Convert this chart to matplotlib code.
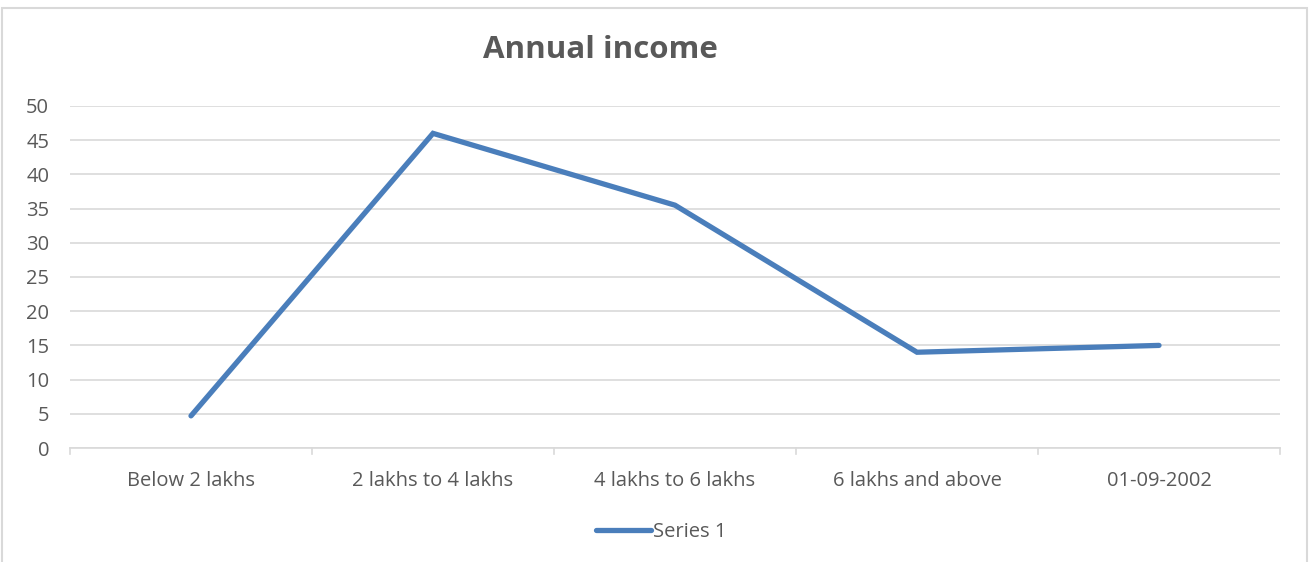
import matplotlib
matplotlib.use('Agg')
import matplotlib.pyplot as plt
from matplotlib.patches import Rectangle
from matplotlib.lines import Line2D

# Income brackets and share of respondents
categories = ['Below 2 lakhs', '2 lakhs to 4 lakhs', '4 lakhs to 6 lakhs',
              '6 lakhs and above', '01-09-2002']
series_1 = [4.7, 46, 35.5, 14, 15]
y_ticks = [0, 5, 10, 15, 20, 25, 30, 35, 40, 45, 50]

LINE_COLOR = '#4a7ebb'
GRID_COLOR = '#d9d9d9'
TEXT_COLOR = '#595959'
FS = 14.5

plt.rcParams['font.family'] = ['Open Sans', 'DejaVu Sans']

W, H = 1310, 562
fig = plt.figure(figsize=(W / 100, H / 100), dpi=100)

# chart frame
fig.patches.append(Rectangle((2 / W, -0.1), 1305 / W, 1 - 8 / H + 0.1,
                             transform=fig.transFigure, fill=False,
                             edgecolor=GRID_COLOR, linewidth=1.5))

ax = fig.add_axes([70 / W, 1 - 448 / H, 1210 / W, 342 / H])
x = list(range(len(categories)))
ax.plot(x, series_1, color=LINE_COLOR, linewidth=3.8, solid_capstyle='round',
        solid_joinstyle='miter', zorder=3)

ax.set_xlim(-0.5, len(categories) - 0.5)
ax.set_ylim(0, 50)
ax.set_yticks(y_ticks)
ax.set_yticklabels([str(v) for v in y_ticks], fontsize=FS, color=TEXT_COLOR)
ax.set_xticks(x)
ax.set_xticklabels(categories, fontsize=FS, color=TEXT_COLOR)
ax.tick_params(axis='y', length=0, pad=15)
ax.tick_params(axis='x', length=0, pad=16.5)

# category boundary ticks
for b in [i - 0.5 for i in range(len(categories) + 1)]:
    ax.plot([b, b], [0, -0.9], color=GRID_COLOR, linewidth=1.2,
            clip_on=False, zorder=1)

ax.grid(axis='y', color=GRID_COLOR, linewidth=1.2)
ax.set_axisbelow(True)
for side in ['top', 'right', 'left']:
    ax.spines[side].set_visible(False)
ax.spines['bottom'].set_color(GRID_COLOR)
ax.spines['bottom'].set_linewidth(1.2)

fig.text(600 / W, 1 - 50 / H, 'Annual income', ha='center', va='center',
         fontsize=22.5, fontweight='bold', color=TEXT_COLOR)

# legend
handle = Line2D([], [], color=LINE_COLOR, linewidth=3.8, solid_capstyle='round')
fig.legend([handle], ['Series 1'], loc='center', bbox_to_anchor=(661 / W, 1 - 532 / H),
           frameon=False, fontsize=FS, labelcolor=TEXT_COLOR,
           handlelength=2.75, handletextpad=0.1)

fig.savefig('out.png', dpi=100)
